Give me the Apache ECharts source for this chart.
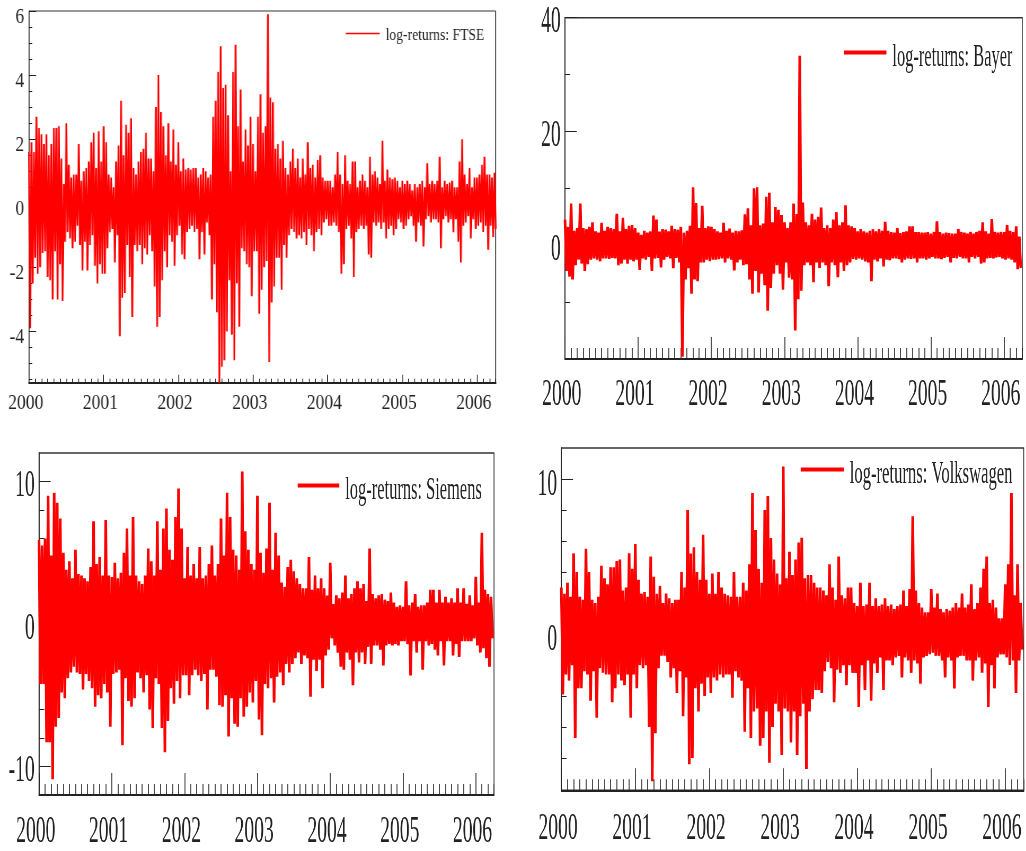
<!DOCTYPE html>
<html>
<head>
<meta charset="utf-8">
<title>log-returns</title>
<script src="https://cdn.jsdelivr.net/npm/echarts@6/dist/echarts.min.js"></script>
<style>
  html, body { margin: 0; padding: 0; background: #fff; }
  #page { position: relative; width: 1026px; height: 851px; overflow: hidden; }
  .panel { position: absolute; transform-origin: 0 0; }
</style>
</head>
<body>
<div id="page">
  <div class="panel" id="p-ftse"></div>
  <div class="panel" id="p-bayer"></div>
  <div class="panel" id="p-siemens"></div>
  <div class="panel" id="p-vw"></div>
</div>
<script>
// upper and lower swings, one line per year
const ftseHi = [
  1.6,1.9,1.6,2.7,2.35,2.15,1.85,2.15,1.5,1.85,2.35,2.35,2.4,1.4,0.6,2.5,1.2,0.8,0.9,0.9,1.85,0.7,1.0,1.1,1.3,1.9,2.2,1.1,2.25,1.3,
  2.4,1.9,0.9,0.8,0.5,1.3,1.8,3.2,1.5,2.45,2.2,2.65,1.1,0.9,1.3,1.6,1.7,2.2,1.4,1.4,1.0,3.0,4.0,2.85,2.4,1.5,2.5,1.3,2.3,1.2,
  1.9,1.0,1.4,1.05,1.1,1.05,1.1,1.1,0.8,0.9,1.1,1.0,0.8,0.9,2.7,3.2,4.1,4.9,3.6,3.7,2.75,1.0,4.1,4.95,2.4,3.55,1.3,2.3,1.8,2.7,
  1.85,1.0,2.7,3.4,2.2,2.4,5.9,3.3,3.15,1.7,1.85,1.4,1.95,1.1,0.9,1.3,1.7,1.1,1.4,0.8,1.4,0.9,1.9,1.1,1.2,0.8,1.35,1.5,0.8,0.7,
  0.7,0.7,0.5,0.9,1.6,0.9,0.6,1.5,0.7,0.6,1.3,1.3,0.5,0.7,0.9,0.7,0.5,1.45,0.9,1.0,0.8,0.6,1.95,0.7,1.05,0.8,0.75,0.8,0.7,0.5,
  0.7,0.6,0.7,0.6,0.4,0.6,0.5,0.6,0.7,0.5,1.25,0.6,0.7,0.6,0.7,1.45,0.5,0.7,0.6,0.65,0.7,0.5,0.5,1.3,2.0,0.9,0.6,1.1,0.5,0.8,
  0.8,0.9,1.2,1.45,0.9,0.9,0.8,0.95
];
const ftseLo = [
  -3.9,-2.5,-1.7,-2.2,-2.0,-1.55,-1.5,-2.3,-2.4,-3.0,-1.5,-3.0,-1.9,-3.05,-1.2,-0.9,-1.1,-1.4,-1.2,-0.7,-1.3,-2.1,-1.2,-2.1,-1.3,-1.0,-1.95,-2.5,-1.9,-2.2,
  -2.2,-1.4,-0.9,-0.8,-1.85,-1.0,-4.15,-2.95,-2.8,-1.3,-2.3,-3.55,-1.3,-1.5,-1.3,-1.9,-1.4,-1.6,-1.0,-1.5,-2.6,-3.85,-3.55,-2.4,-1.5,-2.0,-1.0,-1.2,-1.95,-1.0,
  -0.7,-1.6,-1.75,-0.9,-0.8,-0.7,-0.9,-0.8,-1.75,-0.9,-1.6,-0.6,-1.0,-3.0,-1.9,-3.4,-5.6,-5.1,-4.9,-4.0,-2.4,-4.1,-4.9,-2.5,-3.85,-1.4,-1.5,-1.9,-2.0,-2.9,
  -1.5,-1.5,-3.45,-2.7,-2.0,-1.8,-4.95,-3.1,-2.6,-1.7,-1.7,-2.7,-1.3,-1.7,-1.0,-0.8,-0.9,-1.1,-1.0,-1.1,-0.9,-1.3,-0.8,-1.0,-1.5,-0.9,-0.8,-1.0,-0.6,-0.5,
  -0.7,-0.7,-0.6,-0.7,-0.9,-2.2,-1.9,-0.8,-0.7,-1.1,-2.3,-0.9,-0.8,-0.7,-0.8,-0.7,-1.6,-1.7,-0.6,-0.7,-0.6,-0.8,-0.6,-1.1,-0.8,-0.7,-1.0,-0.8,-0.5,-0.6,
  -0.8,-0.7,-0.5,-0.4,-0.7,-1.2,-0.6,-0.7,-1.35,-0.5,-0.4,-0.6,-0.5,-0.5,-0.6,-1.4,-0.5,-0.4,-0.6,-0.5,-0.9,-0.5,-1.2,-1.85,-0.7,-0.6,-0.4,-1.1,-0.5,-0.8,
  -0.7,-0.6,-0.9,-0.7,-1.45,-0.7,-1.05,-0.8
];
const bayerHi = [
  4.5,3.2,7.3,2.5,3.0,7.3,3.0,2.8,3.2,4.0,2.4,2.2,3.9,2.5,3.2,3.0,2.8,5.5,2.4,4.8,2.8,3.4,3.5,3.0,
  2.2,1.8,2.5,2.2,2.4,5.2,4.5,2.4,2.8,2.7,2.4,3.4,2.8,2.7,3.2,2.2,2.5,3.4,10.2,7.4,3.0,6.9,3.0,3.3,
  3.2,2.8,2.4,2.2,3.9,2.5,2.9,2.2,2.5,2.4,2.6,5.4,6.5,3.5,10.0,10.2,3.5,3.8,8.5,9.2,4.0,6.7,6.2,5.3,
  4.0,3.0,4.0,7.3,5.5,33.3,7.5,4.0,3.5,5.5,4.5,5.0,6.6,3.0,3.5,3.0,4.5,5.8,3.5,4.0,7.0,3.5,3.3,3.0,
  2.4,2.8,2.4,2.2,2.5,2.8,2.4,2.8,2.5,4.1,2.5,2.3,2.2,3.0,2.1,2.3,2.4,3.3,3.3,2.3,2.3,2.2,2.2,2.3,
  2.0,2.3,4.2,2.3,2.0,2.2,2.1,2.0,2.0,2.8,2.3,2.2,2.0,2.3,2.0,2.3,2.5,4.0,2.4,2.0,4.6,2.3,2.2,2.3,
  2.3,3.5,2.5,2.3,3.3,1.5
];
const bayerLo = [
  -4.5,-5.5,-6.0,-3.5,-2.5,-3.2,-4.5,-3.3,-2.5,-2.3,-2.5,-2.8,-2.3,-2.3,-2.4,-2.2,-2.3,-3.5,-3.2,-2.5,-3.2,-2.5,-2.8,-2.5,
  -4.3,-2.3,-2.5,-2.0,-4.5,-2.3,-2.2,-3.9,-2.5,-2.0,-2.3,-4.0,-2.2,-3.0,-19.6,-6.0,-4.0,-8.5,-6.0,-6.3,-3.0,-3.0,-2.5,-2.8,
  -2.5,-2.5,-2.4,-2.3,-3.0,-2.3,-2.5,-4.4,-3.0,-2.5,-3.5,-3.3,-6.0,-8.5,-4.5,-8.3,-5.0,-7.0,-11.5,-7.5,-5.0,-3.5,-5.0,-7.8,
  -3.0,-5.7,-6.0,-15.0,-9.5,-8.0,-3.5,-3.0,-3.5,-6.5,-3.0,-4.0,-3.0,-3.5,-7.2,-3.0,-3.5,-5.6,-3.0,-4.5,-3.5,-3.0,-2.4,-2.5,
  -2.3,-2.5,-2.8,-3.0,-6.3,-2.5,-2.8,-2.3,-3.7,-2.5,-2.6,-2.3,-2.3,-2.4,-3.0,-2.5,-2.3,-2.4,-2.3,-3.0,-2.3,-2.3,-2.5,-2.3,
  -2.0,-2.3,-2.3,-2.4,-2.2,-2.0,-3.0,-2.2,-2.3,-2.0,-2.3,-2.3,-3.0,-2.0,-2.3,-2.0,-3.2,-3.0,-2.3,-2.2,-2.3,-2.1,-2.0,-2.3,
  -2.5,-2.3,-2.5,-3.0,-4.2,-4.0
];
const siemensHi = [
  5.9,5.5,6.0,9.0,4.8,9.2,8.5,7.4,5.0,3.8,4.4,3.2,5.2,3.5,3.4,3.2,3.0,4.0,7.2,4.2,4.7,3.4,7.3,3.4,
  3.3,4.3,3.2,3.6,5.0,6.7,3.4,7.5,3.4,3.0,2.8,3.4,5.3,4.4,3.4,7.2,3.8,6.7,8.1,5.2,4.5,7.5,9.5,6.7,
  3.2,5.4,3.4,4.2,3.2,5.4,3.2,3.4,4.2,5.5,3.4,4.2,7.4,4.8,9.2,7.5,5.2,4.8,3.8,10.7,6.5,5.2,4.2,3.8,
  9.0,5.0,3.6,5.3,8.5,3.8,6.4,4.8,2.9,2.6,4.0,4.5,3.7,3.2,2.8,2.5,2.5,4.7,2.4,3.4,2.5,3.2,2.5,2.0,
  4.3,1.4,2.0,1.8,2.2,3.4,1.8,2.1,2.5,3.0,2.5,2.8,1.6,5.3,2.1,1.8,2.0,2.1,1.7,1.6,2.2,1.5,1.2,1.3,
  1.2,3.0,1.3,1.5,2.1,1.2,1.3,1.3,1.5,2.4,2.4,1.5,2.4,1.5,1.9,1.5,1.8,1.5,2.5,1.5,2.5,1.4,2.0,1.3,
  3.3,1.5,6.4,2.4,2.1,1.9
];
const siemensLo = [
  -4.2,-4.2,-8.3,-8.3,-10.9,-7.2,-6.6,-4.8,-5.2,-3.8,-3.4,-3.0,-3.4,-3.5,-4.6,-3.5,-4.0,-4.5,-5.8,-5.0,-5.2,-4.2,-4.8,-7.2,
  -3.5,-3.4,-3.2,-8.5,-3.8,-5.4,-5.8,-5.2,-3.4,-3.8,-4.8,-3.6,-6.0,-7.3,-3.8,-4.2,-7.3,-9.0,-6.8,-4.5,-5.6,-4.0,-5.2,-3.6,
  -3.6,-5.0,-3.6,-3.2,-3.6,-4.0,-3.5,-6.0,-3.2,-3.2,-3.7,-5.7,-5.8,-5.0,-7.9,-5.2,-7.0,-7.2,-5.2,-6.5,-5.8,-4.8,-5.5,-4.0,
  -6.7,-7.8,-4.2,-4.5,-3.8,-5.5,-3.7,-3.4,-4.3,-2.8,-3.4,-2.8,-2.4,-2.0,-2.8,-2.2,-2.4,-5.1,-2.5,-3.3,-2.5,-4.5,-2.2,-1.8,
  -1.0,-1.5,-2.0,-3.0,-3.2,-2.0,-2.5,-4.3,-2.0,-2.7,-2.0,-2.8,-1.6,-2.8,-1.5,-1.5,-1.8,-2.9,-1.5,-1.4,-1.5,-1.4,-1.5,-1.2,
  -1.2,-1.4,-3.6,-1.2,-2.0,-1.2,-3.2,-1.2,-1.5,-1.4,-1.8,-2.2,-1.2,-2.9,-1.2,-1.2,-2.2,-1.4,-2.3,-1.2,-1.2,-1.2,-1.2,-1.0,
  -1.5,-2.0,-1.7,-2.4,-3.0,-1.0
];
const vwHi = [
  3.0,2.6,3.3,2.4,5.2,4.0,2.4,2.2,5.5,4.0,2.2,2.0,2.4,4.4,3.6,3.2,4.3,4.3,4.7,4.8,2.8,3.0,5.2,4.2,
  5.8,3.5,2.6,2.7,2.4,5.0,3.7,2.6,3.1,2.0,2.6,2.3,2.0,2.2,2.2,4.0,3.0,8.0,5.2,5.6,4.0,3.5,6.4,3.5,
  2.6,3.9,2.6,4.0,3.0,2.6,2.5,2.4,4.0,2.4,2.4,3.3,2.8,4.5,9.1,6.7,4.2,3.3,8.0,8.9,6.2,4.8,3.9,3.2,
  10.8,3.6,5.3,3.8,4.8,5.9,6.2,3.6,3.8,3.8,3.3,3.0,3.0,2.8,2.5,4.5,3.0,2.2,5.0,2.5,2.3,3.0,3.0,2.0,
  1.8,3.3,1.8,1.9,3.3,1.8,2.3,1.8,1.9,2.3,1.8,1.9,1.6,1.8,1.9,2.8,1.8,2.9,7.6,2.8,2.0,1.7,1.4,1.4,
  2.9,1.7,2.6,1.6,1.4,1.6,1.5,1.7,2.0,1.7,2.6,1.7,1.9,3.2,1.6,2.0,3.0,4.2,5.0,2.0,2.2,1.7,1.0,1.0,
  3.2,4.5,9.1,2.5,4.5,2.0
];
const vwLo = [
  -3.9,-2.6,-3.0,-2.0,-6.7,-3.5,-3.5,-2.4,-2.6,-4.3,-2.4,-5.4,-2.2,-2.5,-2.6,-2.6,-4.4,-3.5,-2.6,-3.0,-3.3,-2.6,-5.4,-2.6,
  -3.5,-2.0,-2.2,-2.0,-6.0,-9.5,-6.4,-2.2,-1.4,-1.4,-1.8,-2.8,-2.2,-3.8,-2.4,-5.3,-2.8,-8.4,-8.0,-3.5,-5.0,-3.2,-4.0,-2.8,
  -3.8,-2.8,-3.0,-2.6,-2.8,-2.6,-2.6,-4.1,-2.4,-2.8,-3.0,-6.3,-3.5,-6.7,-5.0,-4.8,-7.2,-6.7,-5.0,-8.3,-6.0,-4.5,-5.0,-7.8,
  -4.8,-5.0,-7.0,-5.0,-7.8,-5.3,-4.5,-8.7,-5.0,-4.2,-3.6,-3.6,-3.8,-2.4,-1.8,-2.2,-4.4,-2.3,-2.5,-2.0,-3.3,-2.0,-2.5,-2.5,
  -4.7,-2.0,-3.6,-1.7,-4.3,-1.9,-2.5,-1.5,-3.6,-1.7,-1.7,-2.0,-1.5,-1.4,-2.8,-1.5,-1.7,-2.5,-1.7,-1.9,-3.2,-1.5,-1.4,-1.3,
  -1.2,-1.4,-1.4,-1.7,-2.8,-1.5,-1.7,-3.5,-1.5,-1.4,-1.4,-1.7,-1.7,-3.0,-1.7,-1.5,-2.5,-1.9,-4.7,-2.0,-3.5,-1.5,-1.3,-1.3,
  -1.5,-2.0,-1.7,-3.8,-1.7,-1.0
];
const yearTicks = [2000, 2001, 2002, 2003, 2004, 2005, 2006];
const monthTicks = [];
for (let m = 1; m <= 75; m++) if (m % 12) monthTicks.push(2000 + m / 12);

const ftseLabels = [-4, -2, 0, 2, 4, 6];
const ftseMinor = [-5.5, -5, -4.5, -3.5, -3, -2.5, -1.5, -1, -0.5, 0.5, 1, 1.5, 2.5, 3, 3.5, 4.5, 5, 5.5];
const bayerLabels = [0, 20, 40];
const bayerMinor = [-10, 10, 30];
const siemensLabels = [-10, 0, 10];
const siemensMinor = [-8, -6, -4, -2, 2, 4, 6, 8];
const vwLabels = [0, 10];
const vwMinor = [-8, -6, -4, -2, 2, 4, 6, 8];

const SERIF = '"Liberation Serif", "Times New Roman", serif';
const RED = "#ff0000";
const INK = "#222";

const zig = (hi, lo, perYear) => {
  const out = [];
  hi.forEach((v, i) => {
    out.push([2000 + i / perYear, v]);
    out.push([2000 + (i + 0.5) / perYear, lo[i]]);
  });
  return out;
};

function panel(id, c) {
  const el = document.getElementById(id);
  const w = c.boxW / c.sx;
  el.style.cssText = `left:${c.boxL}px;top:${c.boxT}px;width:${w}px;height:${c.boxH}px;transform:scaleX(${c.sx})`;
  const chart = echarts.init(el);
  const gridL = (c.plot[0] - c.boxL) / c.sx;
  const gridW = (c.plot[1] - c.plot[0]) / c.sx;
  const tickStyle = { color: "#222", width: c.tickW };
  const noText = { show: false };
  chart.setOption({
    animation: false,
    backgroundColor: "#fff",
    grid: {
      left: gridL, width: gridW, top: c.plot[2] - c.boxT, height: c.plot[3] - c.plot[2],
      show: true, borderColor: "#333", borderWidth: c.tickW, containLabel: false,
    },
    legend: {
      left: (c.leg[0] - c.boxL) / c.sx, top: c.leg[1] - c.boxT,
      icon: "rect", itemWidth: c.leg[2] / c.sx, itemHeight: c.leg[4], itemGap: 0,
      padding: 0, itemStyle: { color: RED },
      formatter: n => `{t|${n}}`,
      textStyle: {
        rich: { t: { fontFamily: SERIF, fontSize: c.legFont, color: INK, padding: [c.leg[5], 0, 0, c.leg[3] / c.sx - 5] } },
      },
      data: [c.name],
    },
    xAxis: [
      {
        type: "value", min: 2000, max: 2006.25, splitLine: { show: false },
        axisLine: { show: true, onZero: false, lineStyle: { color: "#222", width: c.axisW } },
        axisTick: { show: true, inside: true, length: c.xTick[0], customValues: yearTicks, lineStyle: tickStyle },
        axisLabel: {
          customValues: yearTicks, formatter: v => String(v), margin: c.xMargin,
          fontFamily: SERIF, fontSize: c.tickFont, color: INK, padding: [0, 6.5 / c.sx, 0, 0],
        },
      },
      {
        type: "value", min: 2000, max: 2006.25, splitLine: { show: false }, position: "bottom",
        axisLine: { show: false, onZero: false },
        axisTick: { show: true, inside: true, length: c.xTick[1], customValues: monthTicks, lineStyle: tickStyle },
        axisLabel: noText,
      },
    ],
    yAxis: [
      {
        type: "value", min: c.y[0], max: c.y[1], splitLine: { show: false },
        axisLine: { show: true, onZero: false, lineStyle: { color: "#222", width: c.tickW } },
        axisTick: { show: true, inside: true, length: c.yTick[0], customValues: c.labels, lineStyle: { color: "#222", width: 1 } },
        axisLabel: {
          customValues: c.labels, formatter: v => `{t|${v}}`, margin: c.yMargin,
          rich: { t: { fontFamily: SERIF, fontSize: c.tickFont, color: INK, padding: [c.yPad, 0, 0, 0] } },
        },
      },
      {
        type: "value", min: c.y[0], max: c.y[1], splitLine: { show: false }, position: "left",
        axisLine: { show: false, onZero: false },
        axisTick: { show: true, inside: true, length: c.yTick[1], customValues: c.minor, lineStyle: { color: "#222", width: 1 } },
        axisLabel: noText,
      },
    ],
    series: [{
      name: c.name, type: "line", data: zig(c.hi, c.lo, c.perYear), xAxisIndex: 0, yAxisIndex: 0,
      showSymbol: false, symbol: "none", smooth: false,
      lineStyle: { color: RED, width: c.lineW, join: "bevel" }, itemStyle: { color: RED },
    }],
  });
  return chart;
}

panel("p-ftse", {
  boxL: 0, boxT: 0, boxW: 513, boxH: 425, sx: 0.8, plot: [29, 495.7, 11, 382.7], y: [-5.6, 6],
  name: "log-returns: FTSE", hi: ftseHi, lo: ftseLo, perYear: 30, labels: ftseLabels, minor: ftseMinor,
  lineW: 2.2, tickW: 1, axisW: 2, tickFont: 22, legFont: 17, xTick: [8, 4], yTick: [9, 4], yPad: 12,
  xMargin: 10, yMargin: 6, leg: [345.7, 27, 34, 6, 1.5, 4],
});
panel("p-bayer", {
  boxL: 513, boxT: 0, boxW: 513, boxH: 425, sx: 0.53, plot: [565, 1022.3, 17.7, 359], y: [-20, 40],
  name: "log-returns: Bayer", hi: bayerHi, lo: bayerLo, perYear: 24, labels: bayerLabels, minor: bayerMinor,
  lineW: 5, tickW: 1.6, axisW: 2, tickFont: 37, legFont: 31, xTick: [22, 11], yTick: [22, 10], yPad: 10,
  xMargin: 18, yMargin: 8, leg: [843.7, 42, 42.7, 6, 4, 10],
});
panel("p-siemens", {
  boxL: 0, boxT: 425, boxW: 513, boxH: 426, sx: 0.53, plot: [39, 494, 453, 795.3], y: [-12, 12],
  name: "log-returns: Siemens", hi: siemensHi, lo: siemensLo, perYear: 24, labels: siemensLabels, minor: siemensMinor,
  lineW: 5, tickW: 1.6, axisW: 2, tickFont: 37, legFont: 31, xTick: [22, 11], yTick: [22, 10], yPad: 10,
  xMargin: 19, yMargin: 8, leg: [297.7, 475, 41.6, 6, 4, 10],
});
panel("p-vw", {
  boxL: 513, boxT: 425, boxW: 513, boxH: 426, sx: 0.53, plot: [561.3, 1023.7, 448, 790.3], y: [-10.08, 12],
  name: "log-returns: Volkswagen", hi: vwHi, lo: vwLo, perYear: 24, labels: vwLabels, minor: vwMinor,
  lineW: 5, tickW: 1.6, axisW: 2, tickFont: 37, legFont: 31.4, xTick: [22, 11], yTick: [22, 10], yPad: 12,
  xMargin: 20, yMargin: 8, leg: [800.7, 459, 43, 6, 4, 10],
});
</script>
</body>
</html>
